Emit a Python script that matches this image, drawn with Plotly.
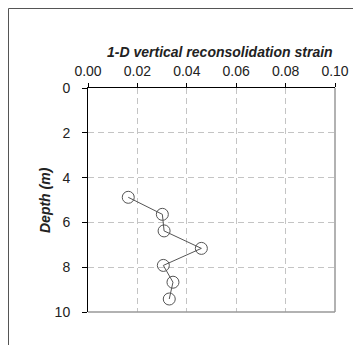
import plotly.graph_objects as go

strain = [0.0163, 0.0301, 0.0308, 0.0459, 0.0305, 0.0344, 0.0329]
depth = [4.88, 5.64, 6.38, 7.16, 7.92, 8.67, 9.42]

x_ticks = [0.0, 0.02, 0.04, 0.06, 0.08, 0.10]
y_ticks = [0, 2, 4, 6, 8, 10]

fig = go.Figure()
fig.add_trace(go.Scatter(
    x=strain, y=depth, mode="lines+markers",
    line=dict(color="#555555", width=1),
    marker=dict(symbol="circle-open", size=12, color="#555555", line=dict(width=1)),
    showlegend=False,
))

# page has an 8px body margin, so the figure is 8px smaller than the window
W, H = 353, 337
L, R, T, B = 80, 26, 80, 33
pw, ph = W - L - R, H - T - B

def px(x):
    return (x - L) / pw

def py(y):
    return (H - B - y) / ph

font = "Liberation Sans, Arial, sans-serif"
grid = dict(showgrid=True, gridcolor="#c4c4c4", griddash="6px,4px", gridwidth=1, zeroline=False)
fig.update_layout(
    width=W, height=H,
    margin=dict(l=L, r=R, t=T, b=B, pad=0),
    paper_bgcolor="white", plot_bgcolor="white",
    font=dict(family=font, size=14, color="#222222"),
    xaxis=dict(
        side="top", range=[0, 0.1], tickvals=x_ticks, tickformat=".2f",
        showline=True, linecolor="black", linewidth=1,
        ticks="outside", ticklen=4, tickcolor="black",
        ticklabelstandoff=1,
        **grid,
    ),
    yaxis=dict(
        range=[10, 0], tickvals=y_ticks,
        showline=True, linecolor="black", linewidth=1,
        ticks="outside", ticklen=5, tickcolor="black",
        ticklabelstandoff=9,
        **grid,
    ),
    annotations=[
        dict(text="<b><i>1-D vertical reconsolidation strain</i></b>", xref="paper", yref="paper",
             x=px(212), y=py(44), showarrow=False, font=dict(size=14),
             xanchor="center", yanchor="middle"),
        dict(text="<b><i>Depth (m)</i></b>", xref="paper", yref="paper",
             x=px(37), y=0.5, showarrow=False, font=dict(size=14), textangle=-90,
             xanchor="center", yanchor="middle"),
    ],
    shapes=[
        dict(type="line", xref="paper", yref="paper", x0=1, x1=1, y0=0, y1=1,
             line=dict(color="#999999", width=1.5)),
        dict(type="line", xref="paper", yref="paper", x0=0, x1=1, y0=0, y1=0,
             line=dict(color="#999999", width=1.5)),
        dict(type="line", xref="paper", yref="paper", x0=px(0.5), x1=px(W + 2), y0=py(0.5), y1=py(0.5),
             line=dict(color="#555555", width=1)),
        dict(type="line", xref="paper", yref="paper", x0=px(0.5), x1=px(0.5), y0=py(0.5), y1=py(H + 2),
             line=dict(color="#555555", width=1)),
    ],
)

fig.write_html("out.html")
